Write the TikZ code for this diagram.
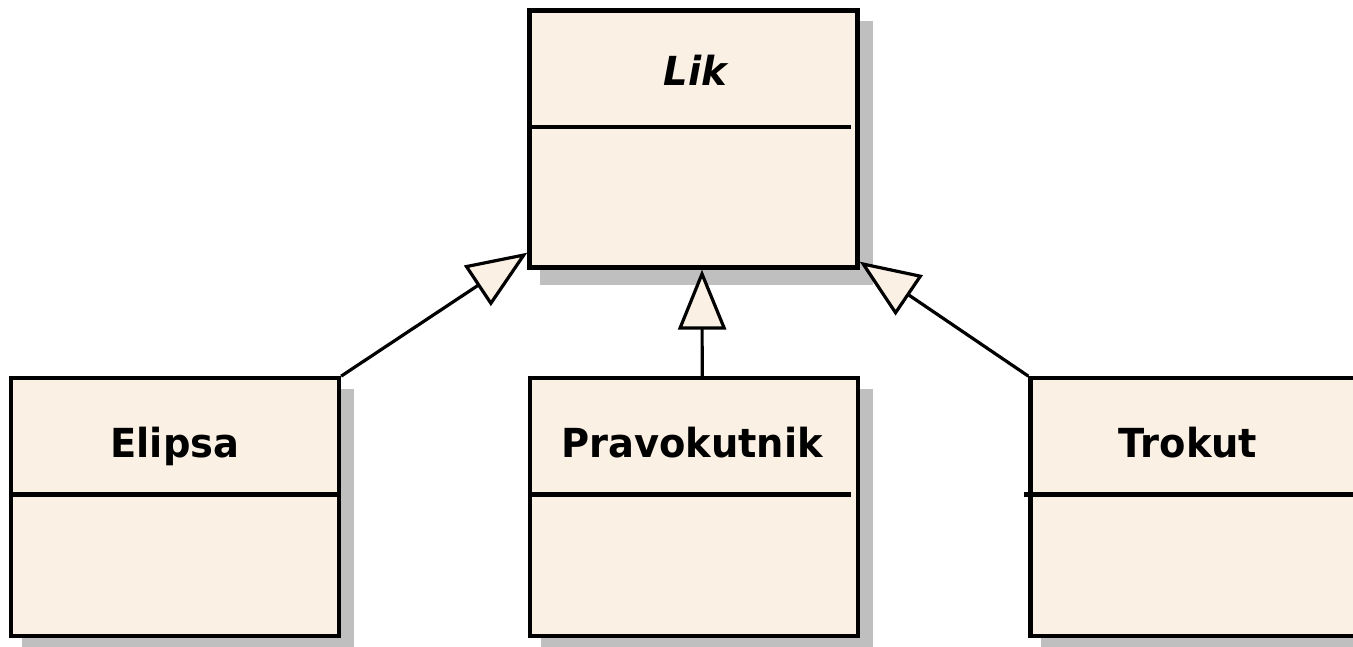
\documentclass[tikz,border=0pt]{standalone}
\usepackage{fontspec}
\setmainfont{DejaVu Sans}[FakeStretch=0.96]
\usetikzlibrary{arrows.meta,backgrounds}
\definecolor{classfill}{RGB}{250,240,227}
\definecolor{shadowgray}{RGB}{191,191,191}
\begin{document}
\begin{tikzpicture}[x=1pt,y=-1pt,
  classbox/.style={draw=black, line width=4.3pt, fill=classfill,
    minimum width=328pt, minimum height=258pt, inner sep=0pt},
  divider/.style={line width=4.3pt, line cap=butt},
  classname/.style={anchor=base, inner sep=0pt,
    font=\fontsize{40}{48}\selectfont\bfseries},
  generalization/.style={line width=3.2pt,
    -{Triangle[length=60pt,width=48pt,fill=classfill]}},
  shade/.style={fill=shadowgray}]
\useasboundingbox (0,0) rectangle (1353,647);

% class boxes
\node[classbox, minimum height=257pt] (lik) at (693.5,139) {};
\node[classbox] (elipsa) at (175,507.3) {};
\node[classbox] (pravo)  at (693.7,507.3) {};
\node[classbox] (trokut) at (1194.5,507.3) {};

% drop shadows
\begin{scope}[on background layer]
  \foreach \n in {lik,elipsa,pravo,trokut}
    \fill[shade] ([shift={(13,13)}]\n.north west) rectangle ([shift={(13,15)}]\n.south east);
\end{scope}

% compartment separators
\draw[divider] (lik.west |- 0,127) -- (851,127);
\draw[divider] (elipsa.west |- 0,494.5) -- (elipsa.east |- 0,494.5);
\draw[divider] (pravo.west |- 0,494.5) -- (851,494.5);
\draw[divider] (1024,494.5) -- (trokut.east |- 0,494.5);

% class names
\node[classname, font=\fontsize{40}{48}\selectfont\bfseries\itshape] (liklabel) at (695.5,86) {Lik};
\node[classname] (elipsalabel) at (175,457) {Elipsa};
\node[classname] (pravolabel)  at (692,457) {Pravokutnik};
\node[classname] (trokutlabel) at (1188,457) {Trokut};

% generalizations
\draw[generalization] ([xshift=8.5pt]pravo.north) -- ([xshift=8.5pt]lik.south);
\draw[generalization] (elipsa.north east) -- ([yshift=17pt]lik.south west);
\draw[generalization] (trokut.north west) -- ([yshift=8pt]lik.south east);
\end{tikzpicture}
\end{document}
